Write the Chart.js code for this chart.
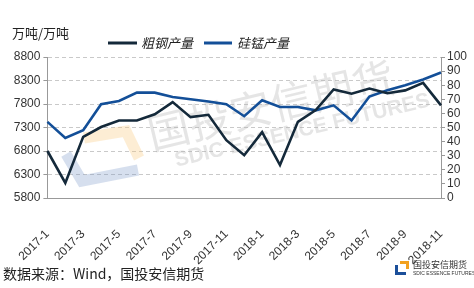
<!DOCTYPE html>
<html>
<head>
<meta charset="utf-8">
<script src="https://cdn.jsdelivr.net/npm/chart.js@4/dist/chart.umd.min.js"></script>
<style>
  html, body { margin: 0; padding: 0; background: #fff; }
  #wrap { position: relative; width: 474px; height: 288px; }
</style>
</head>
<body>
<div id="wrap"><canvas id="c"></canvas></div>
<script>
// 粗钢 / 硅锰 月度产量
const MONTHS = ['2017-1','2017-2','2017-3','2017-4','2017-5','2017-6','2017-7','2017-8','2017-9','2017-10','2017-11','2017-12',
                '2018-1','2018-2','2018-3','2018-4','2018-5','2018-6','2018-7','2018-8','2018-9','2018-10','2018-11'];
const STEEL   = [6800, 6120, 7100, 7310, 7450, 7450, 7580, 7840, 7520, 7570, 7030, 6710,
                 7200, 6500, 7420, 7670, 8110, 8020, 8130, 8030, 8090, 8250, 7770];
const SIMN    = [54, 42.6, 48, 66.5, 68.8, 74.7, 74.7, 71.6, 70, 68.4, 66.5, 58,
                 69.3, 64.5, 64.5, 62.2, 65.7, 55, 72, 76.4, 80, 84, 89];
const LEFT_MIN = 5800, LEFT_MAX = 8800, LEFT_STEP = 500;
const RIGHT_MIN = 0, RIGHT_MAX = 100, RIGHT_STEP = 10;

const DARK = '#14293a';
const BLUE = '#134f98';
const FONT = '"Liberation Sans", Arial, sans-serif';
const CJK  = '"Noto Sans CJK SC", sans-serif';

// ── 水印 ──
const watermark = {
  id: 'watermark',
  beforeDatasetsDraw(chart) {
    const ctx = chart.ctx;
    ctx.save();
    ctx.lineJoin = 'miter';
    ctx.lineWidth = 11;
    ctx.strokeStyle = 'rgba(250,200,120,0.32)';
    ctx.beginPath(); ctx.moveTo(84, 138); ctx.lineTo(126, 131); ctx.lineTo(139, 158); ctx.stroke();
    ctx.strokeStyle = 'rgba(120,150,200,0.30)';
    ctx.beginPath(); ctx.moveTo(66, 154); ctx.lineTo(82, 181); ctx.lineTo(138, 170); ctx.stroke();

    ctx.translate(152, 150);
    ctx.rotate(-0.235);
    ctx.fillStyle = 'rgba(175,175,175,0.33)';
    ctx.font = '42px ' + CJK;
    ctx.fillText('国投安信期货', 0, 0);
    ctx.font = 'bold 21px ' + FONT;
    ctx.fillText('SDIC ESSENCE FUTURES', 20, 22);
    ctx.restore();
  }
};

// ── 标题 / 图例 / 来源 ──
const decor = {
  id: 'decor',
  afterDraw(chart) {
    const ctx = chart.ctx;
    ctx.save();
    ctx.fillStyle = '#222';
    ctx.textBaseline = 'middle';
    ctx.font = '13px ' + CJK;
    ctx.fillText('万吨/万吨', 12, 33);

    ctx.lineWidth = 3;
    ctx.strokeStyle = DARK;
    ctx.beginPath(); ctx.moveTo(108, 43); ctx.lineTo(137, 43); ctx.stroke();
    ctx.strokeStyle = BLUE;
    ctx.beginPath(); ctx.moveTo(204, 43); ctx.lineTo(232, 43); ctx.stroke();
    ctx.font = 'italic 13px ' + CJK;
    ctx.fillText('粗钢产量', 141, 43);
    ctx.fillText('硅锰产量', 237, 43);

    ctx.font = '14px ' + CJK;
    ctx.fillText('数据来源：Wind，国投安信期货', 3, 274);

    // logo
    ctx.fillStyle = '#f2a11f';
    ctx.fillRect(400, 261, 9, 3); ctx.fillRect(406, 261, 3, 8);
    ctx.fillStyle = '#1b4f9a';
    ctx.fillRect(395, 265, 3, 10); ctx.fillRect(395, 272, 11, 3);
    ctx.fillStyle = '#333';
    ctx.font = '9px ' + CJK;
    ctx.fillText('国投安信期货', 413, 265);
    ctx.font = '5px ' + FONT;
    ctx.fillText('SDIC ESSENCE FUTURES', 413, 274);
    ctx.restore();
  }
};

new Chart(document.getElementById('c'), {
  type: 'line',
  data: {
    labels: MONTHS,
    datasets: [
      { label: '粗钢产量', data: STEEL, yAxisID: 'y',  borderColor: DARK, borderWidth: 2.6, pointRadius: 0, tension: 0 },
      { label: '硅锰产量', data: SIMN,  yAxisID: 'y2', borderColor: BLUE, borderWidth: 2.6, pointRadius: 0, tension: 0 },
    ]
  },
  options: {
    responsive: true,
    maintainAspectRatio: false,
    animation: false,
    layout: { padding: { left: 0, right: 0, top: 57, bottom: 0 } },
    plugins: { legend: { display: false }, tooltip: { enabled: false } },
    scales: {
      x: {
        offset: false,
        grid: { display: false },
        border: { color: '#999', width: 1 },
        afterFit: s => { s.height = 90; },
        ticks: {
          autoSkip: false, maxRotation: 45, minRotation: 45, padding: 21,
          color: '#333', font: { family: FONT, size: 12 },
          callback: (v, i) => i % 2 === 0 ? MONTHS[i] : ''
        }
      },
      y: {
        position: 'left', min: LEFT_MIN, max: LEFT_MAX,
        afterFit: s => { s.width = 42; },
        ticks: { stepSize: LEFT_STEP, autoSkip: false, color: '#333', padding: 3,
                 font: { family: FONT, size: 12 }, callback: v => String(v) },
        grid: { color: '#c9c9c9', tickColor: '#999', tickLength: 4 },
        border: { color: '#999', width: 1, dash: [4, 3] }
      },
      y2: {
        position: 'right', min: RIGHT_MIN, max: RIGHT_MAX,
        afterFit: s => { s.width = 33; },
        ticks: { stepSize: RIGHT_STEP, autoSkip: false, color: '#333', padding: 2,
                 font: { family: FONT, size: 12 }, callback: v => String(v) },
        grid: { drawOnChartArea: false, tickColor: '#999', tickLength: 4 },
        border: { color: '#999', width: 1 }
      }
    }
  },
  plugins: [watermark, decor]
});
</script>
</body>
</html>
